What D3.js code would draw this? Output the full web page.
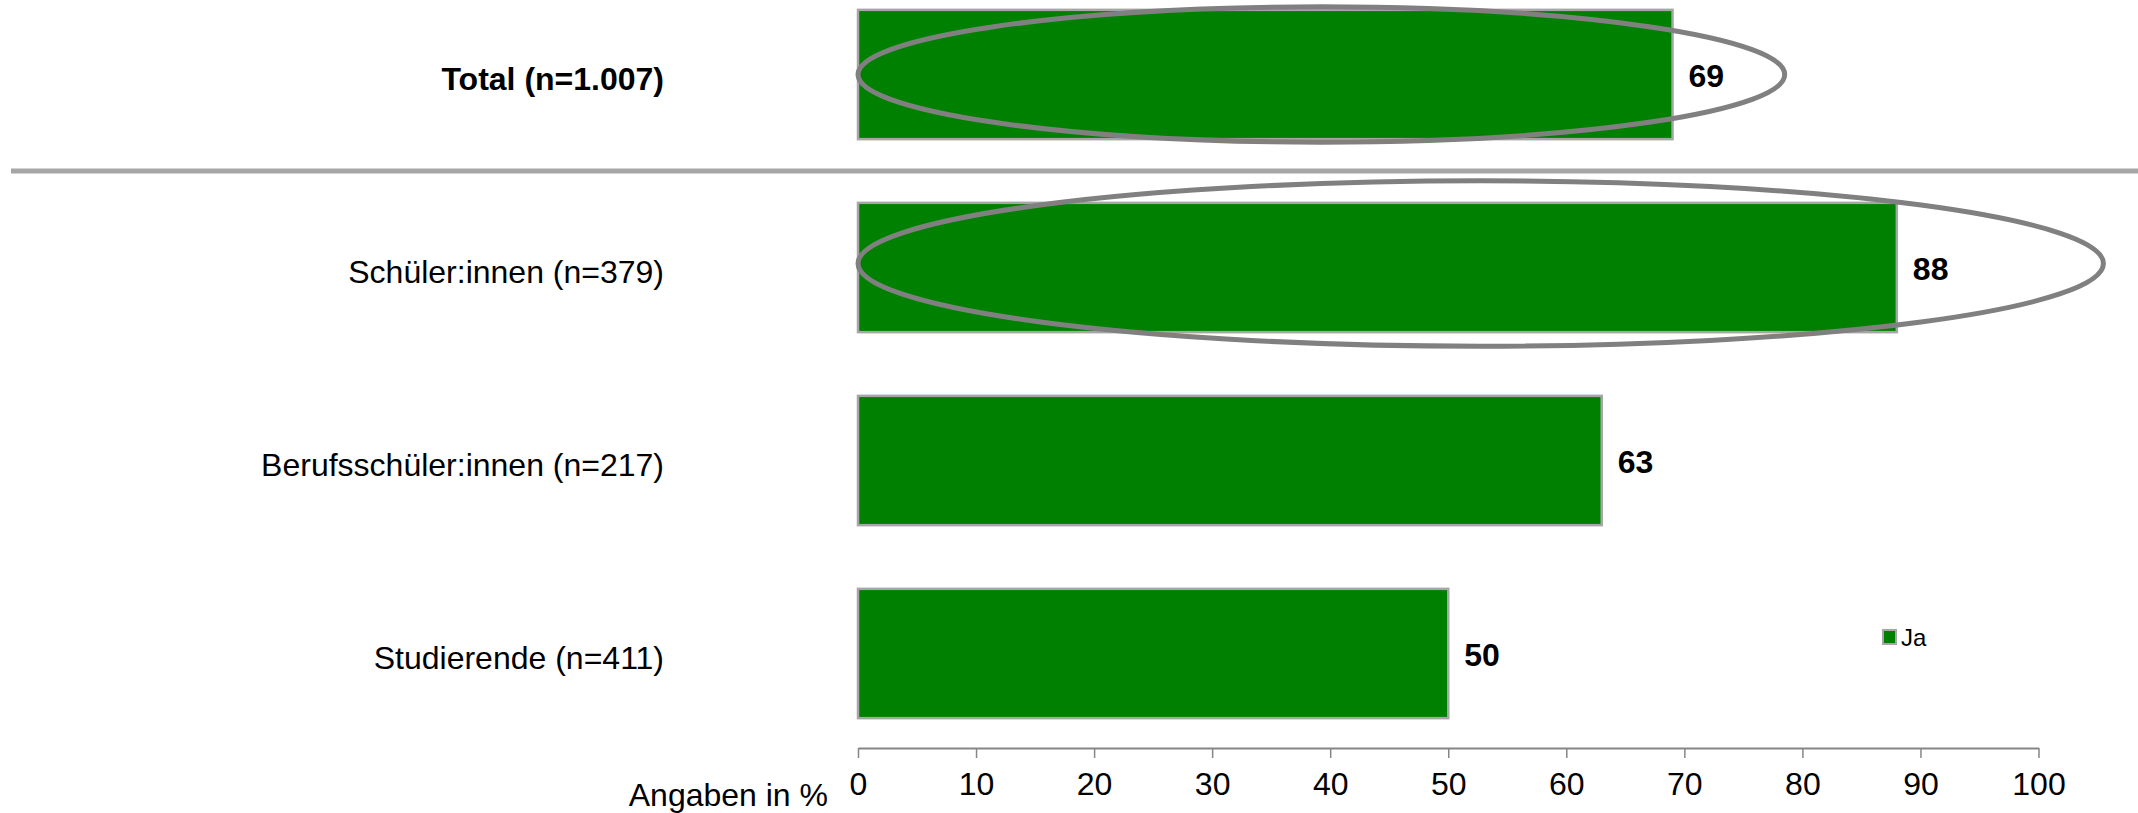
<!DOCTYPE html>
<html>
<head>
<meta charset="utf-8">
<script src="https://cdn.jsdelivr.net/npm/d3@7"></script>
<style>
  body { margin: 0; background: #fff; }
  text { font-family: "Liberation Sans", Arial, sans-serif; }
</style>
</head>
<body>
<div id="chart"></div>
<script>
// data
var categories = ["Total (n=1.007)", "Schüler:innen (n=379)", "Berufsschüler:innen (n=217)", "Studierende (n=411)"];
var values = [69, 88, 63, 50];
var xTicks = [0, 10, 20, 30, 40, 50, 60, 70, 80, 90, 100];
var seriesName = "Ja";
var axisTitle = "Angaben in %";
// highlighted rows (ellipse reaches from 0 to this value)
var ringCats = ["Total (n=1.007)", "Schüler:innen (n=379)"];
var ringReach = [78.5, 105.5];

var width = 2138, height = 813;

var svg = d3.select("#chart")
    .append("svg")
    .attr("width", width)
    .attr("height", height);

var xScale = d3.scaleLinear().domain([0, 100]).range([858, 2038.5]);
var yScale = d3.scaleBand()
    .domain(categories)
    .range([-22, 750])
    .paddingInner(0.33)
    .paddingOuter(0.165);

var bw = yScale.bandwidth();

// Bars
svg.selectAll(".bar")
    .data(categories)
    .enter()
    .append("rect")
    .attr("class", "bar")
    .attr("x", xScale(0))
    .attr("y", function (d) { return yScale(d); })
    .attr("width", function (d, i) { return xScale(values[i]) - xScale(0); })
    .attr("height", bw)
    .style("fill", "#008000")
    .style("stroke", "#a6a6a6")
    .style("stroke-width", "2.5");

// Value labels
svg.selectAll(".val")
    .data(categories)
    .enter()
    .append("text")
    .attr("class", "val")
    .attr("x", function (d, i) { return xScale(values[i]) + 16; })
    .attr("y", function (d) { return yScale(d) + bw / 2 + 12; })
    .style("font-size", "32px")
    .style("font-weight", "bold")
    .text(function (d, i) { return values[i]; });

// Category labels
svg.selectAll(".cat")
    .data(categories)
    .enter()
    .append("text")
    .attr("class", "cat")
    .attr("x", 664)
    .attr("y", function (d) { return yScale(d) + bw / 2 + 15; })
    .style("font-size", "32px")
    .style("font-weight", function (d, i) { return i === 0 ? "bold" : "normal"; })
    .style("text-anchor", "end")
    .text(function (d) { return d; });

// Separator between total and groups
var sepY = yScale(categories[0]) + bw + (yScale.step() - bw) / 2;
svg.append("line")
    .attr("x1", 11)
    .attr("x2", width)
    .attr("y1", sepY)
    .attr("y2", sepY)
    .style("stroke", "#a6a6a6")
    .style("stroke-width", "5");

// Ellipses
var ringRy = [0.523, 0.64];
var ringDy = [0, -4];
ringCats.forEach(function (c, i) {
    var x0 = xScale(0), x1 = xScale(ringReach[i]);
    svg.append("ellipse")
        .attr("cx", (x0 + x1) / 2)
        .attr("cy", yScale(c) + bw / 2 + ringDy[i])
        .attr("rx", (x1 - x0) / 2)
        .attr("ry", bw * ringRy[i])
        .style("fill", "none")
        .style("stroke", "#808080")
        .style("stroke-width", "5");
});

// x axis
var axisY = 748;
var xAxis = svg.append("g")
    .attr("transform", "translate(0," + axisY + ")")
    .call(d3.axisBottom(xScale).tickValues(xTicks).tickSize(10).tickSizeOuter(0).tickPadding(14));
xAxis.select(".domain").style("stroke", "#868686").style("stroke-width", "2");
xAxis.selectAll(".tick line").style("stroke", "#868686").style("stroke-width", "1.5");
xAxis.selectAll(".tick text")
    .style("font-size", "32px")
    .style("font-family", "'Liberation Sans', Arial, sans-serif")
    .style("fill", "#000");

// Axis title
svg.append("text")
    .attr("x", 828)
    .attr("y", 806)
    .style("font-size", "32px")
    .style("text-anchor", "end")
    .text(axisTitle);

// Legend
svg.append("rect")
    .attr("x", 1883)
    .attr("y", 630)
    .attr("width", 13)
    .attr("height", 14)
    .style("fill", "#008000")
    .style("stroke", "#a6a6a6")
    .style("stroke-width", "2");
svg.append("text")
    .attr("x", 1901)
    .attr("y", 646)
    .style("font-size", "24px")
    .text(seriesName);
</script>
</body>
</html>
